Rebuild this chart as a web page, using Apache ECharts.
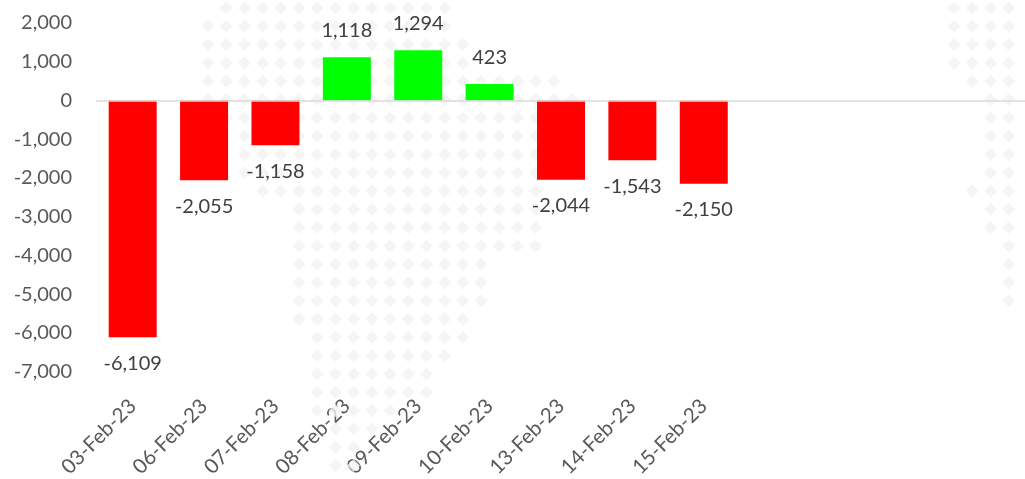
<!DOCTYPE html>
<html>
<head>
<meta charset="utf-8">
<style>html,body{margin:0;padding:0;background:#fff}#c{width:1025px;height:479px}</style>
<script src="https://cdn.jsdelivr.net/npm/echarts@6/dist/echarts.min.js"></script>
</head>
<body>
<div id="c"></div>
<script>
const categories = ['03-Feb-23','06-Feb-23','07-Feb-23','08-Feb-23','09-Feb-23','10-Feb-23','13-Feb-23','14-Feb-23','15-Feb-23','','','',''];
const values = [-6109,-2055,-1158,1118,1294,423,-2044,-1543,-2150];
const yTicks = {min:-7000, max:2000, interval:1000};
// background dotted-map watermark: for each dot row, [firstColumn,lastColumn] runs
const mapRows = [
 [[1,13],[41,45]],[[0,13],[41,45]],[[0,14],[41,45]],[[0,14],[41,45]],[[0,19],[42,45]],
 [[0,20],[43,45]],[[1,18],[43,45]],[[2,18],[43,45]],[[2,18],[43,45]],[[2,18],[43,45]],
 [[3,18],[42,45]],[[5,18],[43,45]],[[5,18],[43,45]],[[5,18],[44,45]],[[5,15],[44,45]],
 [[5,15],[44,45]],[[5,15],[44,45]],[[5,14]],[[6,14]],[[6,13]],[[6,12]],[[6,12]],[[6,10]],
 [[7,9]],[[7,8]],[[7,8]]
];
const mapDots = [];
mapRows.forEach((runs,r)=>runs.forEach(([a,b])=>{for(let c=a;c<=b;c++)mapDots.push([c,r]);}));

const FONT = 'Lato';
const chart = echarts.init(document.getElementById('c'),null,{renderer:'canvas'});
const barData = values.map(v=>({
  value:v,
  itemStyle:{color:v<0?'#FF0000':'#00FF00'},
  label:{position:v<0?'bottom':'top',distance:v<0?16:17}
}));
chart.setOption({
  animation:false,
  backgroundColor:'#fff',
  grid:[
    {left:97,right:0,top:23,height:348.75,outerBoundsMode:'none'},
    {left:0,top:0,width:1025,height:479,outerBoundsMode:'none'}
  ],
  xAxis:[
    {type:'category',gridIndex:0,data:categories,position:'bottom',
     axisLine:{show:false,onZero:false},axisTick:{show:false},
     axisLabel:{interval:0,rotate:45,margin:31,fontFamily:FONT,fontSize:20.5,color:'#595959'}},
    {type:'category',gridIndex:0,data:categories,position:'top',z:3,
     axisLine:{show:true,onZero:true,lineStyle:{color:'rgba(217,217,217,0.75)',width:2}},
     axisTick:{show:false},axisLabel:{show:false}},
    {type:'value',gridIndex:1,min:-11.43,max:44.89,show:false}
  ],
  yAxis:[
    {type:'value',gridIndex:0,min:yTicks.min,max:yTicks.max,interval:yTicks.interval,
     axisLine:{show:false},axisTick:{show:false},splitLine:{show:false},
     axisLabel:{margin:25,fontFamily:FONT,fontSize:20,color:'#595959',
       formatter:v=>v.toLocaleString('en-US')}},
    {type:'value',gridIndex:1,min:-0.437,max:25.74,inverse:true,show:false}
  ],
  series:[
    {type:'scatter',xAxisIndex:2,yAxisIndex:1,data:mapDots,symbol:'diamond',symbolSize:13,z:0,silent:true,
     itemStyle:{color:'#F3F3F3'}},
    {type:'bar',xAxisIndex:0,yAxisIndex:0,data:barData,barWidth:48,z:2,
     label:{show:true,fontFamily:FONT,fontSize:20,color:'#404040',
       formatter:p=>p.value.toLocaleString('en-US')}}
  ]
});
</script>
</body>
</html>
